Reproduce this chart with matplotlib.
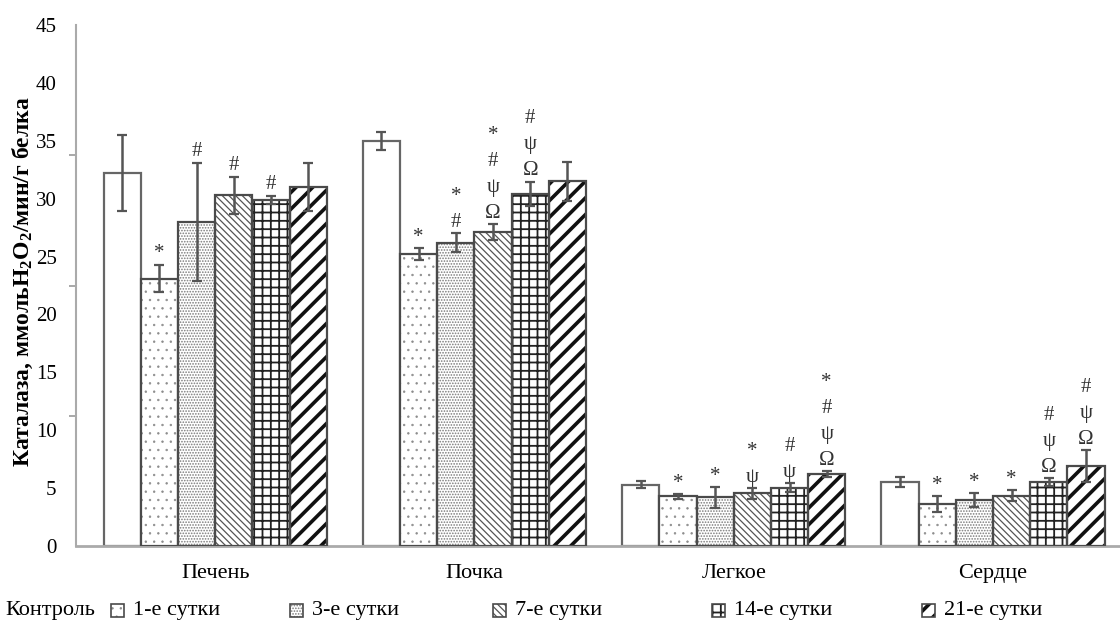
import matplotlib
matplotlib.use('Agg')
import matplotlib.pyplot as plt
from matplotlib.patches import Rectangle
import numpy as np

# ---------------- data ----------------
organs = ['Печень', 'Почка', 'Легкое', 'Сердце']
series_names = ['Контроль', '1-е сутки', '3-е сутки', '7-е сутки', '14-е сутки', '21-е сутки']

control = [32.2, 35.0, 5.3, 5.55]
day1 = [23.1, 25.2, 4.3, 3.6]
day3 = [28.0, 26.2, 4.2, 3.95]
day7 = [30.3, 27.1, 4.55, 4.35]
day14 = [29.9, 30.4, 5.05, 5.5]
day21 = [31.0, 31.5, 6.2, 6.9]

control_err = [3.3, 0.8, 0.3, 0.45]
day1_err = [1.2, 0.5, 0.2, 0.7]
day3_err = [5.1, 0.8, 0.9, 0.6]
day7_err = [1.6, 0.7, 0.45, 0.45]
day14_err = [0.35, 1.05, 0.4, 0.35]
day21_err = [2.05, 1.7, 0.25, 1.4]

control_marks = ['', '', '', '']
day1_marks = ['*', '*', '*', '*']
day3_marks = ['#', '*\n#', '*', '*']
day7_marks = ['#', '*\n#\nψ\nΩ', '*\nψ', '*']
day14_marks = ['#', '#\nψ\nΩ', '#\nψ', '#\nψ\nΩ']
day21_marks = ['', '', '*\n#\nψ\nΩ', '#\nψ\nΩ']

yticks = [0, 5, 10, 15, 20, 25, 30, 35, 40, 45]
ylabel = 'Каталаза, ммольH$_2$O$_2$/мин/г белка'

all_vals = [control, day1, day3, day7, day14, day21]
all_errs = [control_err, day1_err, day3_err, day7_err, day14_err, day21_err]
all_marks = [control_marks, day1_marks, day3_marks, day7_marks, day14_marks, day21_marks]

# ---------------- style ----------------
plt.rcParams['font.family'] = ['Liberation Serif', 'DejaVu Serif']
plt.rcParams['mathtext.fontset'] = 'custom'
plt.rcParams['mathtext.rm'] = 'Liberation Serif:bold'
plt.rcParams['mathtext.default'] = 'rm'

styles = [
    dict(hatch=None, hc='#666666', hlw=1.0),
    dict(hatch='..', hc='#8c8c8c', hlw=0.5),
    dict(hatch='......', hc='#7a7a7a', hlw=0.8),
    dict(hatch='\\\\\\\\\\', hc='#555555', hlw=0.9),
    dict(hatch='++', hc='#222222', hlw=1.3),
    dict(hatch='//', hc='#111111', hlw=2.6),
]

W, H = 1120, 622
fig = plt.figure(figsize=(W / 100, H / 100), dpi=100)
ax = fig.add_axes([76 / W, 1 - 546 / H, 1 - 76 / W, (546 - 25) / H])

x = np.arange(len(organs))
w = 0.1435
offsets = (np.arange(6) - 2.5) * w


def set_hlw(patch, lw):
    try:
        patch.set_hatch_linewidth(lw)
    except AttributeError:
        pass


for i, (vals, errs, marks, st) in enumerate(zip(all_vals, all_errs, all_marks, styles)):
    xs = x + offsets[i]
    with plt.rc_context({'hatch.linewidth': st['hlw']}):
        if st['hatch'] is None:
            bars = ax.bar(xs, vals, width=w, color='white', edgecolor='#666666', linewidth=1.6, zorder=2)
        else:
            bars = ax.bar(xs, vals, width=w, color='white', edgecolor=st['hc'], hatch=st['hatch'],
                          linewidth=0, zorder=2)
            for b in bars:
                set_hlw(b, st['hlw'])
            ax.bar(xs, vals, width=w, fill=False, edgecolor='#4a4a4a', linewidth=1.6, zorder=3)
    ax.errorbar(xs, vals, yerr=errs, fmt='none', ecolor='#555555', elinewidth=1.8,
                capsize=3.5, capthick=1.6, zorder=4)
    for xi, v, e, m in zip(xs, vals, errs, marks):
        if m:
            ax.annotate(m, xy=(xi, v + e), xytext=(0, 1), textcoords='offset points',
                        ha='center', va='bottom', fontsize=15, linespacing=1.5,
                        color='#333333', zorder=5)

ax.set_xlim(-0.537, 3.49)
ax.set_ylim(0, 45)
ax.set_xticks(x)
ax.set_xticklabels(organs, fontsize=16)
ax.tick_params(axis='x', length=0, pad=13)
ax.set_yticks(yticks)
ax.set_yticklabels([str(t) for t in yticks], fontsize=15)
ax.tick_params(axis='y', which='major', length=0, pad=14)
ax.set_yticks([0, 11.25, 22.5, 33.75, 45], minor=True)
ax.tick_params(axis='y', which='minor', length=5, width=1.2, color='#999999', direction='out')
for s in ['top', 'right']:
    ax.spines[s].set_visible(False)
ax.spines['left'].set_color('#aaaaaa')
ax.spines['left'].set_linewidth(1.5)
ax.spines['bottom'].set_color('#aaaaaa')
ax.spines['bottom'].set_linewidth(2)
ax.patch.set_visible(False)

fig.text(23 / W, 1 - 282 / H, ylabel, rotation=90, ha='center', va='center',
         fontsize=17, fontweight='bold')

# ---------------- legend ----------------
ly = 610
fig.text(5 / W, 1 - ly / H, series_names[0], ha='left', va='center', fontsize=16)
leg_x = [111, 290, 493, 712, 922]
for i, px in enumerate(leg_x):
    st = styles[i + 1]
    with plt.rc_context({'hatch.linewidth': st['hlw']}):
        r = Rectangle((px / W, 1 - (ly + 6.5) / H), 13 / W, 13 / H, transform=fig.transFigure,
                      facecolor='white', edgecolor=st['hc'], hatch=st['hatch'], linewidth=0)
        set_hlw(r, st['hlw'])
        fig.add_artist(r)
    fig.add_artist(Rectangle((px / W, 1 - (ly + 6.5) / H), 13 / W, 13 / H, transform=fig.transFigure,
                             fill=False, edgecolor='#4a4a4a', linewidth=1.2))
    fig.text((px + 22) / W, 1 - ly / H, series_names[i + 1], ha='left', va='center', fontsize=16)

fig.savefig('out.png', dpi=100)
